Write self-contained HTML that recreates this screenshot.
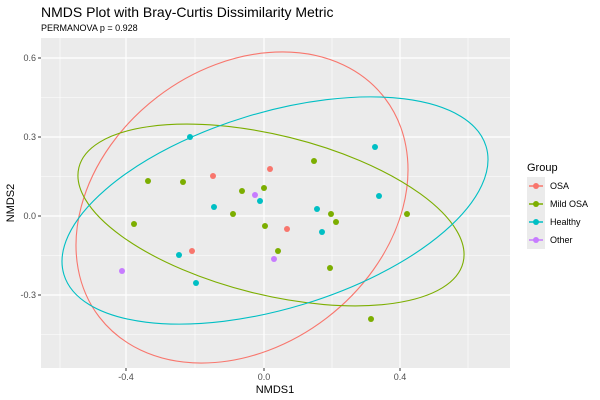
<!DOCTYPE html>
<html><head><meta charset="utf-8"><style>
html,body{margin:0;padding:0;background:#fff;width:600px;height:400px;overflow:hidden;}
svg{display:block;font-family:"Liberation Sans","DejaVu Sans",sans-serif;}
</style></head><body>
<svg width="600" height="400" viewBox="0 0 600 400" xmlns="http://www.w3.org/2000/svg">
<rect width="600" height="400" fill="#fff"/>
<text x="41" y="17" font-size="14" fill="#000">NMDS Plot with Bray-Curtis Dissimilarity Metric</text>
<text x="41" y="31" font-size="9" fill="#000">PERMANOVA p = 0.928</text>
<defs><clipPath id="c"><rect x="41" y="38" width="469" height="330"/></clipPath></defs>
<rect x="41" y="38" width="469" height="330" fill="#ebebeb"/>
<g stroke="#fff" stroke-width="0.6">
<line x1="60" y1="38" x2="60" y2="368"/><line x1="195" y1="38" x2="195" y2="368"/><line x1="332" y1="38" x2="332" y2="368"/><line x1="468" y1="38" x2="468" y2="368"/>
<line x1="41" y1="97.5" x2="510" y2="97.5"/><line x1="41" y1="176.5" x2="510" y2="176.5"/><line x1="41" y1="255.5" x2="510" y2="255.5"/><line x1="41" y1="334.5" x2="510" y2="334.5"/>
</g>
<g stroke="#fff" stroke-width="1.2">
<line x1="126" y1="38" x2="126" y2="368"/><line x1="264" y1="38" x2="264" y2="368"/><line x1="400" y1="38" x2="400" y2="368"/>
<line x1="41" y1="58" x2="510" y2="58"/><line x1="41" y1="137" x2="510" y2="137"/><line x1="41" y1="216" x2="510" y2="216"/><line x1="41" y1="295" x2="510" y2="295"/>
</g>
<g clip-path="url(#c)" fill="none" stroke-width="1.1">
<ellipse cx="242" cy="207.5" rx="179.9" ry="139.2" transform="rotate(-37.5 242 207.5)" stroke="#F8766D"/>
<ellipse cx="271" cy="215" rx="197.9" ry="79.8" transform="rotate(13.9 271 215)" stroke="#7CAE00"/>
<ellipse cx="275" cy="210.5" rx="220.6" ry="98" transform="rotate(-16.9 275 210.5)" stroke="#00BFC4"/>
</g>
<g fill="#F8766D"><circle cx="213" cy="176" r="3"/><circle cx="270" cy="169" r="3"/><circle cx="287" cy="229" r="3"/><circle cx="192" cy="251" r="3"/></g>
<g fill="#7CAE00"><circle cx="148" cy="181" r="3"/><circle cx="183" cy="182" r="3"/><circle cx="242" cy="191" r="3"/><circle cx="264" cy="188" r="3"/><circle cx="314" cy="161" r="3"/><circle cx="134" cy="224" r="3"/><circle cx="233" cy="214" r="3"/><circle cx="265" cy="226" r="3"/><circle cx="331" cy="214" r="3"/><circle cx="336" cy="222" r="3"/><circle cx="278" cy="251" r="3"/><circle cx="330" cy="268" r="3"/><circle cx="407" cy="214" r="3"/><circle cx="371" cy="319" r="3"/></g>
<g fill="#00BFC4"><circle cx="190" cy="137" r="3"/><circle cx="375" cy="147" r="3"/><circle cx="379" cy="196" r="3"/><circle cx="214" cy="207" r="3"/><circle cx="260" cy="201" r="3"/><circle cx="317" cy="209" r="3"/><circle cx="322" cy="232" r="3"/><circle cx="179" cy="255" r="3"/><circle cx="196" cy="283" r="3"/></g>
<g fill="#C77CFF"><circle cx="255" cy="195" r="3"/><circle cx="122" cy="271" r="3"/><circle cx="274" cy="259" r="3"/></g>
<g stroke="#333" stroke-width="1">
<line x1="38" y1="58" x2="41" y2="58"/><line x1="38" y1="137" x2="41" y2="137"/><line x1="38" y1="216" x2="41" y2="216"/><line x1="38" y1="295" x2="41" y2="295"/>
<line x1="126" y1="368" x2="126" y2="371"/><line x1="264" y1="368" x2="264" y2="371"/><line x1="400" y1="368" x2="400" y2="371"/>
</g>
<g font-size="9" fill="#4d4d4d" text-anchor="end">
<text x="36" y="61">0.6</text><text x="36" y="140">0.3</text><text x="36" y="219">0.0</text><text x="36" y="298">-0.3</text>
</g>
<g font-size="9" fill="#4d4d4d" text-anchor="middle">
<text x="126" y="380">-0.4</text><text x="264" y="380">0.0</text><text x="400" y="380">0.4</text>
</g>
<text x="275" y="393" font-size="11" text-anchor="middle">NMDS1</text>
<text x="14" y="203" font-size="11" text-anchor="middle" transform="rotate(-90 14 203)">NMDS2</text>
<text x="527" y="171" font-size="11">Group</text>
<rect x="527" y="177" width="18" height="72" fill="#ebebeb"/>
<g stroke-width="1.5">
<line x1="529" y1="186" x2="543" y2="186" stroke="#F8766D"/><circle cx="536" cy="186" r="3" fill="#F8766D"/>
<line x1="529" y1="204" x2="543" y2="204" stroke="#7CAE00"/><circle cx="536" cy="204" r="3" fill="#7CAE00"/>
<line x1="529" y1="222" x2="543" y2="222" stroke="#00BFC4"/><circle cx="536" cy="222" r="3" fill="#00BFC4"/>
<line x1="529" y1="240" x2="543" y2="240" stroke="#C77CFF"/><circle cx="536" cy="240" r="3" fill="#C77CFF"/>
</g>
<g font-size="9" fill="#000">
<text x="550" y="189">OSA</text><text x="550" y="207">Mild OSA</text><text x="550" y="225">Healthy</text><text x="550" y="243">Other</text>
</g>
</svg>
</body></html>
